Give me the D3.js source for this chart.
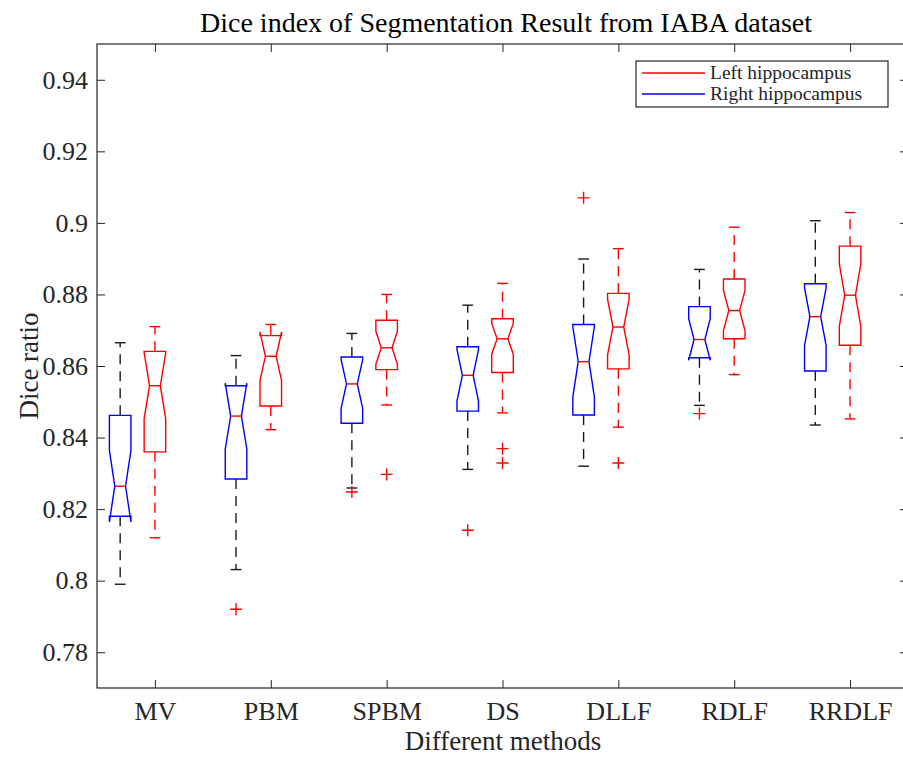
<!DOCTYPE html>
<html>
<head>
<meta charset="utf-8">
<script src="https://cdn.jsdelivr.net/npm/d3@7"></script>
<style>
  body { margin: 0; background: #fff; }
</style>
</head>
<body>
<script>
// categories
const methods = ['MV', 'PBM', 'SPBM', 'DS', 'DLLF', 'RDLF', 'RRDLF'];
const yTicks = [0.78, 0.8, 0.82, 0.84, 0.86, 0.88, 0.9, 0.92, 0.94];

// Right hippocampus (blue)
const rightLo = [0.799, 0.8031, 0.8259, 0.8311, 0.832, 0.849, 0.8435];
const rightQ1 = [0.818, 0.8284, 0.844, 0.8474, 0.8463, 0.8623, 0.8586];
const rightMed = [0.8264, 0.846, 0.855, 0.8574, 0.8612, 0.8674, 0.8738];
const rightQ3 = [0.8462, 0.8545, 0.8625, 0.8654, 0.8716, 0.8766, 0.883];
const rightHi = [0.8665, 0.8629, 0.8691, 0.877, 0.8899, 0.887, 0.9006];
const rightNotch = [0.01, 0.0092, 0.0068, 0.0072, 0.0098, 0.0058, 0.008];
const rightOut = [[], [0.792], [0.8248], [0.8141], [0.907], [0.8467], []];

// Left hippocampus (red)
const leftLo = [0.812, 0.8422, 0.8491, 0.8469, 0.8429, 0.8576, 0.8452];
const leftQ1 = [0.836, 0.8488, 0.859, 0.8582, 0.8592, 0.8676, 0.8658];
const leftMed = [0.8545, 0.8627, 0.8651, 0.8676, 0.8709, 0.8755, 0.8798];
const leftQ3 = [0.8641, 0.8685, 0.8728, 0.8732, 0.8803, 0.8843, 0.8935];
const leftHi = [0.871, 0.8716, 0.88, 0.8831, 0.8928, 0.8988, 0.9029];
const leftNotch = [0.0092, 0.0068, 0.0046, 0.0043, 0.0078, 0.0056, 0.0088];
const leftOut = [[], [], [0.8297], [0.8369, 0.8329], [0.8329], [], []];

const legendLabels = ['Left hippocampus', 'Right hippocampus'];

const W = 903, H = 757;
const frame = { left: 97, right: 908, top: 44, bottom: 688 };
const axisColor = '#262626';
const serif = '"Liberation Serif", "Times New Roman", Times, serif';

const svg = d3.select('body').append('svg')
	.attr('xmlns', 'http://www.w3.org/2000/svg')
	.attr('width', W)
	.attr('height', H)
	.attr('font-family', serif);

const xScale = d3.scaleLinear().domain([0.5, 7.5]).range([frame.left, frame.right]);
const yScale = d3.scaleLinear().domain([0.77, 0.95]).range([frame.bottom, frame.top]);

const tickLen = 8;
const yFmt = (d) => String(+d.toFixed(2));

// axes
const xAxis = d3.axisBottom(xScale)
	.tickValues(d3.range(1, methods.length + 1))
	.tickFormat((d) => methods[d - 1])
	.tickSizeInner(-tickLen).tickSizeOuter(0).tickPadding(14);
const xAxisTop = d3.axisTop(xScale)
	.tickValues(d3.range(1, methods.length + 1))
	.tickFormat('')
	.tickSizeInner(-tickLen).tickSizeOuter(0);
const yAxis = d3.axisLeft(yScale)
	.tickValues(yTicks).tickFormat(yFmt)
	.tickSizeInner(-tickLen).tickSizeOuter(0).tickPadding(9);
const yAxisRight = d3.axisRight(yScale)
	.tickValues(yTicks).tickFormat('')
	.tickSizeInner(-tickLen).tickSizeOuter(0);

function styleAxis(g, fontSize) {
	g.attr('font-family', serif).attr('font-size', fontSize);
	g.select('.domain').remove();
	g.selectAll('.tick line').attr('stroke', axisColor);
	g.selectAll('.tick text').attr('fill', axisColor);
}

svg.append('g').attr('transform', `translate(0,${frame.bottom})`).call(xAxis).call(styleAxis, 26);
svg.append('g').attr('transform', `translate(0,${frame.top})`).call(xAxisTop).call(styleAxis, 26);
svg.append('g').attr('transform', `translate(${frame.left},0)`).call(yAxis).call(styleAxis, 26);
svg.append('g').attr('transform', `translate(${frame.right},0)`).call(yAxisRight).call(styleAxis, 26);

svg.append('rect')
	.attr('x', frame.left).attr('y', frame.top)
	.attr('width', frame.right - frame.left).attr('height', frame.bottom - frame.top)
	.attr('fill', 'none').attr('stroke', axisColor).attr('stroke-width', 1.2);

// boxes
const boxW = 0.186;
const series = [
	{ lo: rightLo, q1: rightQ1, med: rightMed, q3: rightQ3, hi: rightHi, notch: rightNotch, out: rightOut, offset: -0.3, color: '#0000ff', whisker: '#1a1a1a' },
	{ lo: leftLo, q1: leftQ1, med: leftMed, q3: leftQ3, hi: leftHi, notch: leftNotch, out: leftOut, offset: 0, color: '#ff0000', whisker: '#ff0000' }
];

const plot = svg.append('g');

series.forEach((s) => {
	const rows = methods.map((m, i) => ({
		pos: i + 1 + s.offset,
		lo: s.lo[i], q1: s.q1[i], med: s.med[i], q3: s.q3[i], hi: s.hi[i],
		nLo: s.med[i] - s.notch[i], nHi: s.med[i] + s.notch[i], out: s.out[i]
	}));

	const g = plot.append('g').selectAll('g').data(rows).enter().append('g');

	// dashed whiskers
	g.append('line')
		.attr('x1', (d) => xScale(d.pos)).attr('x2', (d) => xScale(d.pos))
		.attr('y1', (d) => yScale(d.q3)).attr('y2', (d) => yScale(d.hi))
		.attr('stroke', s.whisker).attr('stroke-width', 1.4).attr('stroke-dasharray', '10,7');
	g.append('line')
		.attr('x1', (d) => xScale(d.pos)).attr('x2', (d) => xScale(d.pos))
		.attr('y1', (d) => yScale(d.q1)).attr('y2', (d) => yScale(d.lo))
		.attr('stroke', s.whisker).attr('stroke-width', 1.4).attr('stroke-dasharray', '10,7');

	// caps
	['lo', 'hi'].forEach((k) => {
		g.append('line')
			.attr('x1', (d) => xScale(d.pos - boxW / 4)).attr('x2', (d) => xScale(d.pos + boxW / 4))
			.attr('y1', (d) => yScale(d[k])).attr('y2', (d) => yScale(d[k]))
			.attr('stroke', s.whisker).attr('stroke-width', 1.4);
	});

	// notched box
	g.append('path')
		.attr('d', (d) => {
			const xl = xScale(d.pos - boxW / 2), xr = xScale(d.pos + boxW / 2);
			const xil = xScale(d.pos - boxW / 4), xir = xScale(d.pos + boxW / 4);
			const p = d3.path();
			p.moveTo(xl, yScale(d.q3));
			p.lineTo(xr, yScale(d.q3));
			p.lineTo(xr, yScale(d.nHi));
			p.lineTo(xir, yScale(d.med));
			p.lineTo(xr, yScale(d.nLo));
			p.lineTo(xr, yScale(d.q1));
			p.lineTo(xl, yScale(d.q1));
			p.lineTo(xl, yScale(d.nLo));
			p.lineTo(xil, yScale(d.med));
			p.lineTo(xl, yScale(d.nHi));
			p.closePath();
			return p.toString();
		})
		.attr('fill', 'none').attr('stroke', s.color).attr('stroke-width', 1.4);

	// median
	g.append('line')
		.attr('x1', (d) => xScale(d.pos - boxW / 4)).attr('x2', (d) => xScale(d.pos + boxW / 4))
		.attr('y1', (d) => yScale(d.med)).attr('y2', (d) => yScale(d.med))
		.attr('stroke', '#ff0000').attr('stroke-width', 1.4);

	// outliers
	g.selectAll('path.out').data((d) => d.out.map((v) => ({ pos: d.pos, v: v }))).enter()
		.append('path').attr('class', 'out')
		.attr('d', (o) => {
			const cx = xScale(o.pos), cy = yScale(o.v), r = 6;
			return `M${cx - r},${cy}H${cx + r}M${cx},${cy - r}V${cy + r}`;
		})
		.attr('stroke', '#ff0000').attr('stroke-width', 1.4).attr('fill', 'none');
});

// titles
svg.append('text').attr('x', 506).attr('y', 32).attr('text-anchor', 'middle')
	.attr('font-size', 28).attr('fill', '#000')
	.text('Dice index of Segmentation Result from IABA dataset');
svg.append('text').attr('x', 503).attr('y', 750).attr('text-anchor', 'middle')
	.attr('font-size', 27).attr('fill', axisColor)
	.text('Different methods');
svg.append('text').attr('transform', 'translate(38,366) rotate(-90)').attr('text-anchor', 'middle')
	.attr('font-size', 27).attr('fill', axisColor)
	.text('Dice ratio');

// legend
const legend = svg.append('g');
legend.append('rect').attr('x', 636).attr('y', 61).attr('width', 252).attr('height', 46)
	.attr('fill', '#fff').attr('stroke', axisColor).attr('stroke-width', 1.2);
const legendColors = ['#ff0000', '#0000ff'];
legendLabels.forEach((lab, i) => {
	const ly = 73 + i * 21;
	legend.append('line').attr('x1', 642).attr('x2', 705).attr('y1', ly).attr('y2', ly)
		.attr('stroke', legendColors[i]).attr('stroke-width', 1.4);
	legend.append('text').attr('x', 710).attr('y', ly + 6).attr('font-size', 19.5)
		.attr('fill', axisColor)
		.text(lab);
});
</script>
</body>
</html>
